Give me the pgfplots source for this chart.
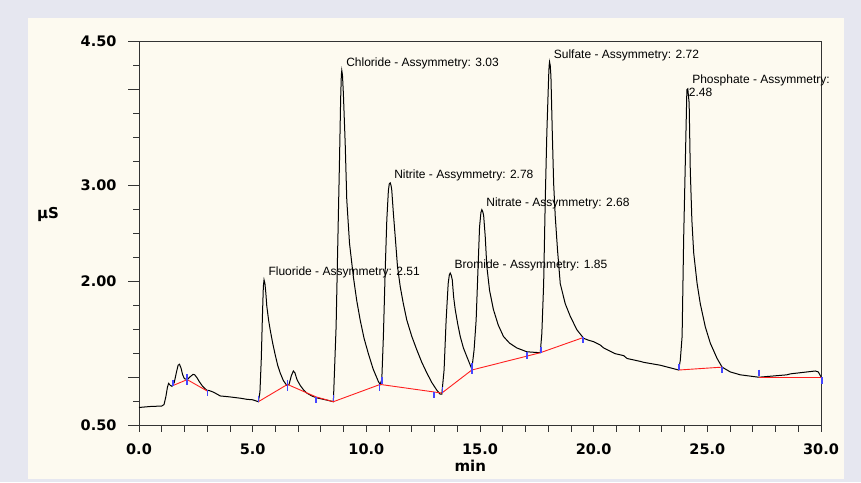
\documentclass[border=0pt]{standalone}
\usepackage{fontspec}
\setmainfont{Liberation Sans}
\newfontfamily\tickfont{DejaVu Sans}
\usepackage{pgfplots}
\pgfplotsset{compat=1.18}
\definecolor{outerbg}{RGB}{230,231,240}
\definecolor{panel}{RGB}{253,250,240}
\definecolor{basered}{RGB}{255,30,30}
\definecolor{markblue}{RGB}{70,70,255}
\begin{document}
\begin{tikzpicture}
\useasboundingbox (0pt,0pt) rectangle (861pt,482pt);
\fill[outerbg] (0pt,0pt) rectangle (861pt,482pt);
\fill[panel] (28pt,3pt) rectangle (844pt,464pt);
\begin{axis}[
  at={(139pt,56.3pt)}, anchor=south west,
  scale only axis, width=682pt, height=384pt,
  xmin=0, xmax=30, ymin=0.5, ymax=4.5,
  clip=false,
  axis line style={black!80, line width=0.8pt},
  tick align=outside, xtick pos=left, ytick pos=left,
  xtick={0,5,10,15,20,25,30},
  xticklabels={0.0,5.0,10.0,15.0,20.0,25.0,30.0},
  minor x tick num=4,
  ytick={0.5,1,2,3,4,4.5},
  yticklabels={0.50,,2.00,3.00,,4.50},
  minor ytick={0.75,1.25,1.5,1.75,2.25,2.5,2.75,3.25,3.5,3.75,4.25},
  major tick length=11pt, minor tick length=6pt,
  xtick style={/pgfplots/major tick length=6pt},
  tick style={black!80, line width=0.8pt},
  tick label style={font=\fontsize{14.5}{16}\selectfont\tickfont\bfseries},
  yticklabel style={xshift=-8pt},
  xticklabel style={yshift=-4pt},
]
% chromatogram trace
\addplot[black, line width=1pt] coordinates {
(0,0.69) (0.5,0.70) (1.0,0.705) (1.1,0.72) (1.18,0.80) (1.25,0.90) (1.30,0.94) (1.38,0.92) (1.45,0.91) (1.55,0.95) (1.65,1.06) (1.72,1.13) (1.78,1.14) (1.85,1.10) (1.92,1.03) (2.0,0.99) (2.12,0.98) (2.25,1.01) (2.38,1.035) (2.45,1.03) (2.55,1.00) (2.65,0.96) (2.8,0.91) (2.98,0.87) (3.1,0.865) (3.27,0.85) (3.5,0.82) (3.57,0.81) (4.0,0.80) (4.5,0.785) (4.74,0.775) (5.0,0.77) (5.25,0.75)
(5.32,0.85) (5.38,1.2) (5.43,1.65) (5.47,1.95) (5.50,2.02) (5.54,1.98) (5.58,1.88) (5.62,1.75) (5.7,1.6) (5.77,1.50) (5.88,1.36) (5.99,1.24) (6.1,1.13) (6.21,1.05) (6.35,0.97) (6.5,0.92) (6.6,0.93) (6.7,1.02) (6.79,1.07) (6.86,1.05) (6.95,0.98) (7.09,0.92) (7.25,0.87) (7.38,0.84) (7.6,0.81) (7.82,0.79) (8.2,0.77) (8.55,0.75)
(8.67,1.53) (8.73,2.23) (8.82,3.27) (8.87,3.90) (8.90,4.15) (8.92,4.20) (8.95,4.15) (8.99,3.96) (9.07,3.44) (9.14,2.85) (9.26,2.40) (9.43,2.05) (9.58,1.80) (9.73,1.60) (9.90,1.41) (10.09,1.25) (10.30,1.09) (10.53,0.96) (10.61,0.93)
(10.68,0.98) (10.75,1.43) (10.83,2.12) (10.90,2.64) (10.97,2.95) (11.01,3.02) (11.05,3.03) (11.09,3.00) (11.12,2.95) (11.19,2.71) (11.27,2.47) (11.37,2.16) (11.49,1.95) (11.62,1.78) (11.78,1.60) (12.0,1.43) (12.22,1.29) (12.44,1.16) (12.66,1.05) (12.88,0.95) (13.10,0.87) (13.24,0.83) (13.32,0.83)
(13.42,1.08) (13.51,1.60) (13.60,1.98) (13.65,2.07) (13.69,2.09) (13.73,2.07) (13.78,2.02) (13.84,1.84) (13.91,1.71) (14.02,1.56) (14.13,1.43) (14.27,1.31) (14.42,1.22) (14.64,1.09)
(14.74,1.29) (14.83,1.60) (14.91,2.12) (14.98,2.57) (15.04,2.72) (15.08,2.75) (15.12,2.73) (15.16,2.69) (15.23,2.47) (15.30,2.16) (15.42,1.91) (15.59,1.71) (15.80,1.55) (16.03,1.43) (16.30,1.36) (16.62,1.31) (17.06,1.27) (17.65,1.26)
(17.72,1.46) (17.80,1.98) (17.87,2.85) (17.94,3.55) (18.02,4.14) (18.04,4.25) (18.06,4.29) (18.09,4.25) (18.12,4.14) (18.18,3.55) (18.24,3.02) (18.31,2.68) (18.41,2.33) (18.53,1.98) (18.75,1.77) (18.97,1.64) (19.26,1.50) (19.56,1.41) (19.78,1.39) (20.0,1.375) (20.29,1.34) (20.44,1.31) (20.95,1.25) (21.32,1.23) (21.47,1.20) (22.05,1.17) (22.20,1.16) (22.93,1.13) (23.74,1.08)
(23.81,1.18) (23.89,1.43) (23.96,2.47) (24.04,3.34) (24.10,4.0) (24.14,4.01) (24.20,3.86) (24.25,3.16) (24.32,2.64) (24.40,2.30) (24.55,1.98) (24.69,1.77) (24.91,1.53) (25.13,1.36) (25.43,1.20) (25.65,1.11) (26.01,1.06) (26.45,1.03) (27.26,1.005) (28.5,1.03) (28.65,1.04) (29.75,1.07) (29.88,1.06) (30.0,1.01)
};
% integration baselines
\addplot[basered, line width=0.9pt] coordinates {(1.51,0.92) (2.12,0.98) (3.01,0.86)};
\addplot[basered, line width=0.9pt] coordinates {(5.25,0.75) (6.53,0.93) (7.79,0.80) (8.55,0.75) (10.61,0.93) (13.32,0.84) (14.64,1.08) (17.65,1.26) (19.56,1.42)};
\addplot[basered, line width=0.9pt] coordinates {(23.74,1.08) (25.65,1.11)};
\addplot[basered, line width=0.9pt] coordinates {(27.26,1.00) (30.0,1.00)};
% peak start/end markers
\addplot[only marks, mark=|, mark size=3.2pt, mark options={markblue, line width=1.7pt}] coordinates {
(1.51,0.945) (3.01,0.84) (5.25,0.78) (7.79,0.77) (8.55,0.79) (10.58,0.90) (10.68,0.97) (12.98,0.82) (13.35,0.87) (17.06,1.23) (17.68,1.29) (19.53,1.39) (23.75,1.11) (25.66,1.08) (27.27,1.05) (30.03,0.97)};
\addplot[only marks, mark=|, mark size=5.5pt, mark options={markblue, line width=1.7pt}] coordinates {
(2.12,0.98) (6.53,0.92) (14.64,1.10)};
% annotations
\begin{scope}[every node/.style={font=\fontsize{12}{14}\selectfont, inner sep=0pt, anchor=west}]
\node at (axis cs:5.69,2.10) {Fluoride - Assymmetry: 2.51};
\node at (axis cs:9.11,4.278) {Chloride - Assymmetry: 3.03};
\node at (axis cs:11.22,3.104) {Nitrite - Assymmetry: 2.78};
\node at (axis cs:13.88,2.167) {Bromide - Assymmetry: 1.85};
\node at (axis cs:15.27,2.817) {Nitrate - Assymmetry: 2.68};
\node at (axis cs:18.24,4.361) {Sulfate - Assymmetry: 2.72};
\node at (axis cs:24.33,4.094) {Phosphate - Assymmetry:};
\node at (axis cs:24.18,3.969) {2.48};
\end{scope}
\node[font=\fontsize{15}{17}\selectfont\tickfont\bfseries] at (axis cs:-4.0,2.695) {µS};
\node[font=\fontsize{15}{17}\selectfont\tickfont\bfseries] at (axis cs:14.57,0.08) {min};
\end{axis}
\end{tikzpicture}
\end{document}
